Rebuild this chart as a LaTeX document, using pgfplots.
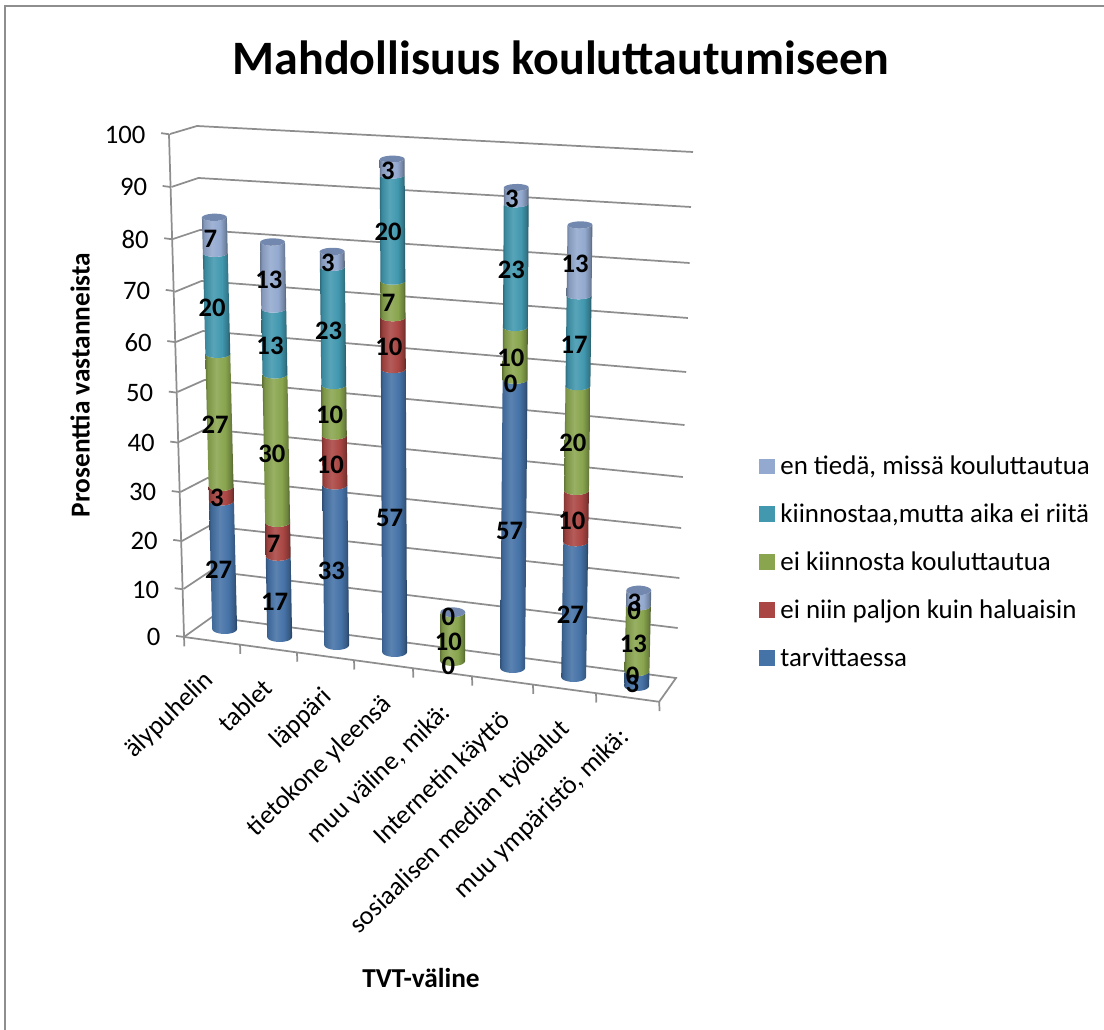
\documentclass[border=0pt]{standalone}
\usepackage{pgfplots}
\pgfplotsset{compat=1.18}
\usepackage{fontspec}
\setmainfont{Carlito}
\definecolor{cBlue}{HTML}{4572A7}
\definecolor{cRed}{HTML}{AA4643}
\definecolor{cGreen}{HTML}{89A54E}
\definecolor{cTeal}{HTML}{4198AF}
\definecolor{cLight}{HTML}{93A9CF}
\definecolor{cCap}{HTML}{7388AE}
\definecolor{wallgrey}{HTML}{8E8E8E}
\newcommand\mkshade[2]{\pgfdeclarehorizontalshading{#1}{100bp}{color(0bp)=(#2!72!black); color(25bp)=(#2!72!black); color(29bp)=(#2!90!black); color(44bp)=(#2!88!white); color(60bp)=(#2); color(70bp)=(#2!78!black); color(75bp)=(#2!55!black); color(100bp)=(#2!55!black)}}
\mkshade{sBlue}{cBlue}
\mkshade{sRed}{cRed}
\mkshade{sGreen}{cGreen}
\mkshade{sTeal}{cTeal}
\mkshade{sLight}{cLight}
\newcommand\labfont{\fontsize{20pt}{20pt}\selectfont\bfseries}
\newcommand\swatch[1]{\addlegendimage{legend image code/.code={\fill[#1] (0pt,-5.6pt) rectangle (11.2pt,5.6pt); \path (13.4pt,0pt);}}}
\pgfplotsset{wall/.style={draw=wallgrey,line width=1.3pt,forget plot}}
% position of a point of the current bar at value #1, offset #2,#3 px
\newcommand\mapv[3]{%
  \pgfmathsetmacro\xd{(\xpos-184+#2+(\Li+.15)*#1)/59.4-.5}%
  \pgfmathsetmacro\yd{\si*#1+(637-\bpos+#3+8.1*(\xd+.5))/4.745}}
\newcommand\ryof[1]{\pgfmathsetmacro\ry{3+(100-#1)*.02}}
\newcommand\drawseg[3]{%
  \ifdim#1pt=#2pt\relax\else
  \gdef\cspath{}%
  \ryof{#1}%
  \foreach \t in {180,195,...,360}{%
    \pgfmathsetmacro\dx{12.5*cos(\t)}\pgfmathsetmacro\dy{\ry*(1+sin(\t))}%
    \mapv{#1}{\dx}{\dy}\xdef\cspath{\cspath(\xd,\yd)}}%
  \ryof{#2}%
  \foreach \t in {360,345,...,180}{%
    \pgfmathsetmacro\dx{12.5*cos(\t)}\pgfmathsetmacro\dy{\ry*(1+sin(\t))}%
    \mapv{#2}{\dx}{\dy}\xdef\cspath{\cspath(\xd,\yd)}}%
  \edef\temp{\noexpand\addplot[draw=none,shade,shading=#3] coordinates {\cspath} --cycle;}\temp
  \fi}
\newcommand\drawcap[1]{%
  \gdef\cspath{}\ryof{#1}%
  \foreach \t in {0,20,...,340}{%
    \pgfmathsetmacro\dx{12.5*cos(\t)}\pgfmathsetmacro\dy{\ry*(1+sin(\t))}%
    \mapv{#1}{\dx}{\dy}\xdef\cspath{\cspath(\xd,\yd)}}%
  \edef\temp{\noexpand\addplot[draw=none,fill=cCap] coordinates {\cspath} --cycle;}\temp}
\newcommand\setbar[3]{\def\ii{#1}\def\xpos{#2}\def\bpos{#3}%
  \pgfmathsetmacro\Li{-.125+.034*\ii}\pgfmathsetmacro\si{.985+.009*\ii}}
% index, centre x px, base y px, five values
\newcommand\cyl[8]{%
  \setbar{#1}{#2}{#3}%
  \pgfmathsetmacro\va{#4}\pgfmathsetmacro\vb{#4+#5}\pgfmathsetmacro\vc{#4+#5+#6}%
  \pgfmathsetmacro\vd{#4+#5+#6+#7}\pgfmathsetmacro\ve{#4+#5+#6+#7+#8}%
  \drawseg{0}{\va}{sBlue}\drawseg{\va}{\vb}{sRed}\drawseg{\vb}{\vc}{sGreen}%
  \drawseg{\vc}{\vd}{sTeal}\drawseg{\vd}{\ve}{sLight}\drawcap{\ve}}
\newcommand\lab[5]{%
  \setbar{#1}{#2}{#3}%
  \mapv{#4}{-4.5}{0}%
  \edef\temp{\noexpand\addplot[draw=none] coordinates {(\xd,\yd)} node[pos=0,font=\noexpand\labfont,text=black,inner sep=0pt] {#5};}\temp}
\begin{document}
\begin{tikzpicture}
\path[use as bounding box] (0,0) rectangle (828pt,772.5pt);
% pixel-space layer: frame, walls, floor, legend
\begin{axis}[at={(0pt,0pt)},anchor=south west,scale only axis,width=828pt,height=772.5pt,
  xmin=0,xmax=1104,ymin=0,ymax=1030,y dir=reverse,hide axis,clip=false,
  legend style={at={(axis cs:759,453)},anchor=north west,draw=none,fill=none,
    font=\fontsize{20.2pt}{20.2pt}\selectfont,row sep=16.4pt,inner sep=0pt,
    /tikz/every even column/.style={column sep=0pt}},
  legend cell align=left]
\addplot[wall,line width=1.5pt] coordinates {(5,1030)(5,6)(1104,6)};
\addplot[wall] coordinates {(184,637)(212,617)(676,678)(659,702)};
\addplot[wall] coordinates {(170,134)(197,126)(693,152)};
\addplot[wall] coordinates {(171.5,187)(198.5,178)(691,207)};
\addplot[wall] coordinates {(173,239)(200,230)(689.6,263)};
\addplot[wall] coordinates {(174.5,292)(201.5,281)(687.9,318)};
\addplot[wall] coordinates {(176,342)(203,331)(686.2,372)};
\addplot[wall] coordinates {(177.5,392)(204.5,380)(684.5,425)};
\addplot[wall] coordinates {(179,442)(206,429)(682.8,477)};
\addplot[wall] coordinates {(180.5,492)(207.5,478)(681.1,528)};
\addplot[wall] coordinates {(182,541)(209,526)(679.4,578)};
\addplot[wall] coordinates {(183.5,589)(210.5,571)(677.7,628)};
\swatch{cLight}\addlegendentry{en tiedä, missä kouluttautua}
\swatch{cTeal}\addlegendentry{kiinnostaa,mutta aika ei riitä}
\swatch{cGreen}\addlegendentry{ei kiinnosta kouluttautua}
\swatch{cRed}\addlegendentry{ei niin paljon kuin haluaisin}
\swatch{cBlue}\addlegendentry{tarvittaessa}
\node[font=\fontsize{36pt}{36pt}\selectfont\bfseries] at (axis cs:561,58) {Mahdollisuus kouluttautumiseen};
\node[font=\fontsize{20.5pt}{20.5pt}\selectfont\bfseries] at (axis cs:421,978) {TVT-väline};
\node[font=\fontsize{20.5pt}{20.5pt}\selectfont\bfseries,rotate=90] at (axis cs:80,385) {Prosenttia vastanneista};
\end{axis}
% data layer: categories on x, percent on y
\begin{axis}[at={(160.3pt,291.71pt)},anchor=origin,
  x={(44.55pt,-6.075pt)},y={(-0.1065pt,3.559pt)},
  y coord trafo/.code={\pgfmathparse{#1+0.0006*#1*#1}},
  xmin=-0.5,xmax=7.5,ymin=0,ymax=100,clip=false,
  axis lines*=left,axis line style={draw=wallgrey,line width=1.3pt,-},
  xtick={0,...,7},
  xticklabels={älypuhelin,tablet,läppäri,tietokone yleensä,{muu väline, mikä:},Internetin käyttö,sosiaalisen median työkalut,{muu ympäristö, mikä:}},
  x tick style={draw=none},
  minor xtick={-0.5,0.443,1.402,2.362,3.355,4.348,5.375,6.436,7.5},
  minor tick length=7pt,
  minor x tick style={draw=wallgrey,line width=1.3pt},
  tick align=outside,
  ytick={0,10,...,100},yticklabels={0,10,20,30,40,50,60,70,80,90,100},
  y tick style={draw=wallgrey,line width=1.3pt},major tick length=6pt,
  /pgf/number format/assume math mode=true,
  tick label style={font=\fontsize{20pt}{20pt}\selectfont,text=black},
  xticklabel style={font=\fontsize{19.7pt}{19.7pt}\selectfont,rotate=44,anchor=north east,xshift=-16.75pt,yshift=-4pt,inner sep=0pt},
  yticklabel style={anchor=east,inner sep=2pt,xshift=-9.5pt,yshift=-1pt}]
%    i  x   base  tarv  einiin eikiin kiinn entied
\cyl{0}{225}{634}{27}{3}{27}{20}{7}
\cyl{1}{280}{642}{17}{7}{30}{13}{13}
\cyl{2}{337}{650}{33}{10}{10}{23}{3}
\cyl{3}{395}{657}{57}{10}{7}{20}{3}
\cyl{4}{453}{666}{0}{0}{10}{0}{0}
\cyl{5}{513}{673}{57}{0}{10}{23}{3}
\cyl{6}{574}{682}{27}{10}{20}{17}{13}
\cyl{7}{637}{691}{3}{0}{13}{0}{3}
\lab{0}{225}{634}{13.5}{27}\lab{0}{225}{634}{28.5}{3}\lab{0}{225}{634}{43.5}{27}\lab{0}{225}{634}{67}{20}\lab{0}{225}{634}{80.5}{7}
\lab{1}{280}{642}{8.5}{17}\lab{1}{280}{642}{20.5}{7}\lab{1}{280}{642}{39}{30}\lab{1}{280}{642}{60.5}{13}\lab{1}{280}{642}{73.5}{13}
\lab{2}{337}{650}{16.5}{33}\lab{2}{337}{650}{38}{10}\lab{2}{337}{650}{48}{10}\lab{2}{337}{650}{64.5}{23}\lab{2}{337}{650}{77.5}{3}
\lab{3}{395}{657}{28.5}{57}\lab{3}{395}{657}{62}{10}\lab{3}{395}{657}{70.5}{7}\lab{3}{395}{657}{84}{20}\lab{3}{395}{657}{95.5}{3}
\lab{4}{453}{666}{0}{0}\lab{4}{453}{666}{5}{10}\lab{4}{453}{666}{10}{0}
\lab{5}{513}{673}{28.5}{57}\lab{5}{513}{673}{57}{0}\lab{5}{513}{673}{62}{10}\lab{5}{513}{673}{78.5}{23}\lab{5}{513}{673}{91.5}{3}
\lab{6}{574}{682}{13.5}{27}\lab{6}{574}{682}{32}{10}\lab{6}{574}{682}{47}{20}\lab{6}{574}{682}{65.5}{17}\lab{6}{574}{682}{80.5}{13}
\lab{7}{637}{691}{1.5}{3}\lab{7}{637}{691}{3}{0}\lab{7}{637}{691}{9.5}{13}\lab{7}{637}{691}{16}{0}\lab{7}{637}{691}{17.5}{3}
\end{axis}
\end{tikzpicture}
\end{document}
